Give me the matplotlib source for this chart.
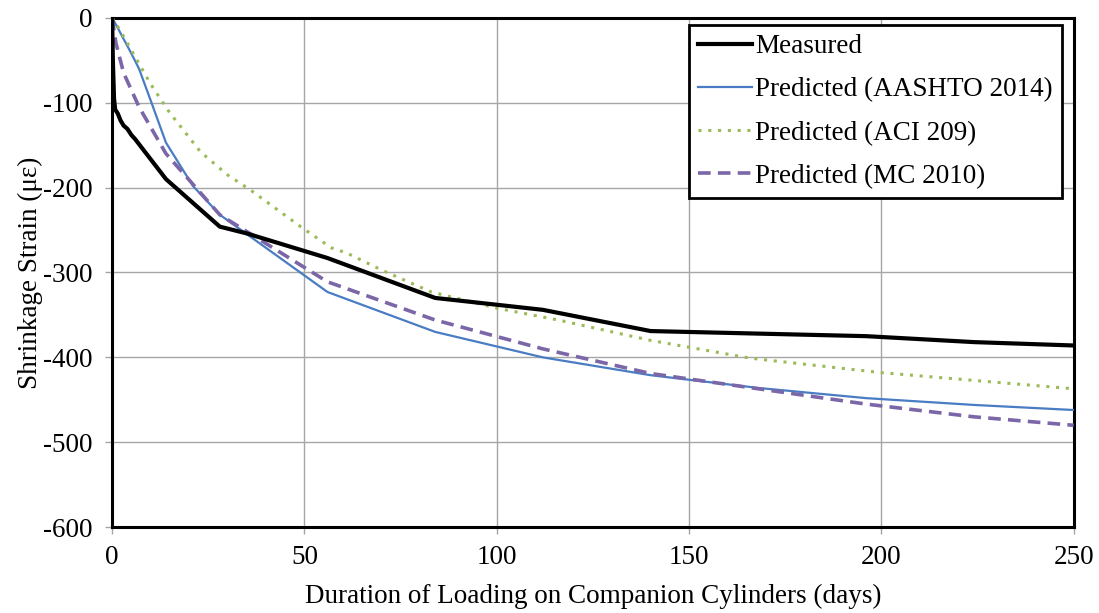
import matplotlib
matplotlib.use("Agg")
import matplotlib.pyplot as plt
from matplotlib.ticker import FuncFormatter

plt.rcParams['font.family'] = ['Liberation Serif', 'DejaVu Serif']

# Measured
meas_x = [0, 0.2, 0.5, 0.8, 1.5, 2.2, 3, 4, 5, 6, 14, 28, 35, 56, 84, 112, 140, 168, 196, 224, 250]
meas_y = [0, -50, -95, -108, -113, -121, -127, -131, -138, -143, -190, -246, -254, -283, -330, -344, -369, -372, -375, -382, -386]

# Predicted (AASHTO 2014)
aashto_x = [0, 1, 3, 5, 7, 10, 14, 21, 28, 56, 84, 112, 140, 168, 196, 224, 250]
aashto_y = [0, -8, -25, -42, -60, -97, -147, -198, -232, -323, -370, -400, -421, -436, -448, -456, -462]

# Predicted (ACI 209)
aci_x = [0, 2, 5, 10, 15, 23, 30, 36, 49, 57, 61, 70, 83, 100, 116, 140, 166, 200, 250]
aci_y = [0, -14, -38, -78, -112, -158, -185, -203, -246, -271, -277, -297, -323, -342, -356, -380, -401, -418, -437]

# Predicted (MC 2010)
mc_x = [0, 1, 3, 7, 14, 28, 56, 84, 112, 140, 168, 196, 224, 250]
mc_y = [0, -30, -65, -105, -160, -232, -311, -356, -390, -419, -437, -455, -470, -480]

x_ticks = [0, 50, 100, 150, 200, 250]
y_ticks = [0, -100, -200, -300, -400, -500, -600]

FS = 19.5

fig = plt.figure(figsize=(10.99, 6.13), dpi=100)
ax = fig.add_axes([0.102, 0.140, 0.875, 0.831])

ax.plot(aashto_x, aashto_y, color='#4A7CC4', lw=1.6, label='Predicted (AASHTO 2014)', zorder=3)
ax.plot(aci_x, aci_y, color='#9BBB59', lw=2.2, linestyle=(0, (1, 2.2)), label='Predicted (ACI 209)', zorder=3)
ax.plot(mc_x, mc_y, color='#7B66A8', lw=2.6, linestyle=(0, (3.5, 2)), label='Predicted (MC 2010)', zorder=3)
ax.plot(meas_x, meas_y, color='black', lw=3, label='Measured', zorder=4)

ax.set_xlim(0, 250)
ax.set_ylim(-600, 0)
ax.set_xticks(x_ticks)
ax.set_yticks(y_ticks)
ax.yaxis.set_major_formatter(FuncFormatter(lambda v, p: f"{int(v)}"))
ax.grid(True, color='#A6A6A6', lw=1.0)
ax.set_axisbelow(True)
for s in ax.spines.values():
    s.set_linewidth(2.2)
    s.set_color('black')
ax.tick_params(axis='both', labelsize=FS, direction='out', length=5, width=1, color='#A6A6A6')
ax.tick_params(axis='y', pad=9)
ax.tick_params(axis='x', pad=8)

ax.set_xlabel('Duration of Loading on Companion Cylinders (days)', fontsize=FS, labelpad=10)
ax.set_ylabel('Shrinkage Strain (με)', fontsize=FS, labelpad=0)

handles, labels = ax.get_legend_handles_labels()
order = [3, 0, 1, 2]
leg = ax.legend([handles[i] for i in order], [labels[i] for i in order],
                loc='upper right', bbox_to_anchor=(0.988, 0.986), fontsize=FS,
                frameon=True, fancybox=False, handlelength=2.0, handletextpad=0.1,
                borderpad=0.35, labelspacing=0.67, borderaxespad=0)
leg.get_frame().set_edgecolor('black')
leg.get_frame().set_linewidth(2.0)
leg.get_frame().set_alpha(1)

fig.savefig('out.png', dpi=100)
